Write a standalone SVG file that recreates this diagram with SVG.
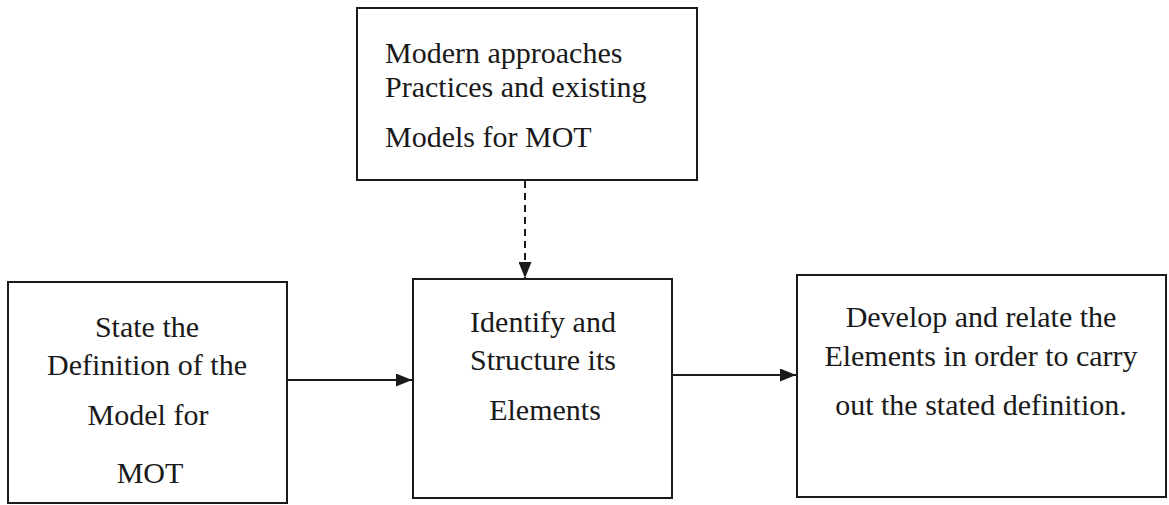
<svg xmlns="http://www.w3.org/2000/svg" width="1169" height="505" viewBox="0 0 1169 505">
<style>
.box{fill:#fff;stroke:#1a1a1a;stroke-width:2}
.t{font-family:'Liberation Serif',serif;font-size:30px;fill:#1a1a1a}
.c{text-anchor:middle}
.ln{stroke:#1a1a1a;stroke-width:2;fill:none}
.dash{stroke-dasharray:7 5}
</style>
<defs>
<marker id="ah" viewBox="0 0 16 13" refX="16" refY="6.5" markerWidth="16" markerHeight="13" markerUnits="userSpaceOnUse" orient="auto">
<path d="M0,0 L16,6.5 L0,13 Z" fill="#1a1a1a"/>
</marker>
</defs>
<rect width="1169" height="505" fill="#fff"/>
<g id="connectors">
<line class="ln" x1="287" y1="380" x2="412" y2="380" marker-end="url(#ah)"/>
<line class="ln" x1="672" y1="375" x2="796" y2="375" marker-end="url(#ah)"/>
<line class="ln dash" x1="525" y1="181" x2="525" y2="278" marker-end="url(#ah)"/>
</g>
<g id="top">
<rect class="box" x="357" y="8" width="340" height="172"/>
<text class="t" x="385" y="63">Modern approaches</text>
<text class="t" x="385" y="97">Practices and existing</text>
<text class="t" x="385" y="147">Models for MOT</text>
</g>
<g id="state">
<rect class="box" x="8" y="282" width="279" height="221"/>
<text class="t c" x="147" y="337">State the</text>
<text class="t c" x="147" y="375">Definition of the</text>
<text class="t c" x="148" y="425">Model for</text>
<text class="t c" x="150" y="483">MOT</text>
</g>
<g id="identify">
<rect class="box" x="413" y="279" width="259" height="219"/>
<text class="t c" x="543" y="332">Identify and</text>
<text class="t c" x="543" y="370">Structure its</text>
<text class="t c" x="545" y="420">Elements</text>
</g>
<g id="develop">
<rect class="box" x="797" y="275" width="369" height="222"/>
<text class="t c" x="981" y="327">Develop and relate the</text>
<text class="t c" x="981" y="366">Elements in order to carry</text>
<text class="t c" x="981" y="415">out the stated definition.</text>
</g>
</svg>
